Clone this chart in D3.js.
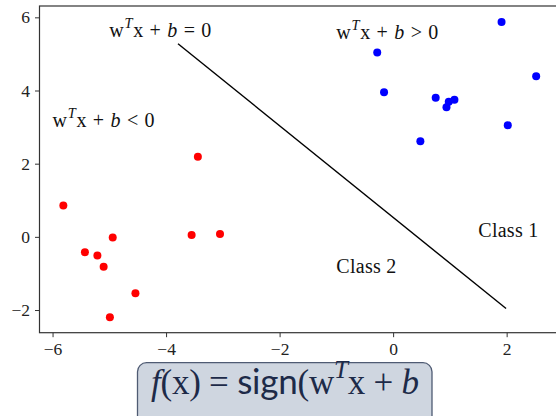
<!DOCTYPE html>
<html><head><meta charset="utf-8">
<script src="https://cdn.jsdelivr.net/npm/d3@7"></script>
<style>html,body{margin:0;padding:0;background:#fff}</style>
</head><body>
<svg id="c" width="556" height="416"></svg>
<script>
// ---- data ----
const class1X = [1.91, -0.28, 2.52, -0.16, 0.75, 1.08, 0.98, 0.94, 2.02, 0.48];
const class1Y = [5.87, 5.04, 4.39, 3.95, 3.80, 3.75, 3.69, 3.54, 3.05, 2.61];
const class2X = [-5.81, -5.43, -5.21, -4.94, -5.10, -4.54, -4.99, -3.55, -3.05, -3.44];
const class2Y = [0.86, -0.42, -0.51, -0.02, -0.82, -1.54, -2.20, 0.05, 0.08, 2.19];
const boundaryX = [-3.79, 1.99];
const boundaryY = [5.28, -1.96];
const xTicks = [-6, -4, -2, 0, 2];
const yTicks = [-2, 0, 2, 4, 6];
const annX = [-5, -6, -1, 1.5, -1];
const annY = [5.47, 3, 5.4, 0, -1];
const annText = ["eq", "lt", "gt", "Class 1", "Class 2"];

// ---- drawing ----
const svg = d3.select("#c");
svg.append("rect").attr("width", 556).attr("height", 416).attr("fill", "#fff");
const L = 39.5, R = 560, T = 6, B = 332.7;
const x = d3.scaleLinear().domain([-6.23, 2.94]).range([L, R]);
const y = d3.scaleLinear().domain([-2.62, 6.31]).range([B, T]);
const serif = "'Liberation Serif', 'DejaVu Serif', serif";

// boundary line
svg.append("path")
  .datum(boundaryX.map((v, i) => [v, boundaryY[i]]))
  .attr("d", d3.line().x(d => x(d[0])).y(d => y(d[1])))
  .attr("stroke", "#000").attr("stroke-width", 1.4).attr("fill", "none");

// points
const pts = [];
class1X.forEach((v, i) => pts.push({x: v, y: class1Y[i], c: "#0000ff"}));
class2X.forEach((v, i) => pts.push({x: v, y: class2Y[i], c: "#ff0000"}));
svg.append("g").selectAll("circle").data(pts).join("circle")
  .attr("cx", d => x(d.x)).attr("cy", d => y(d.y)).attr("r", 4)
  .attr("fill", d => d.c);

// axes
const fmt = d => d < 0 ? "\u2212" + Math.abs(d) : String(d);
const gx = svg.append("g").attr("transform", `translate(0,${B})`)
  .call(d3.axisBottom(x).tickValues(xTicks).tickSize(4.5).tickPadding(5).tickFormat(fmt));
const gy = svg.append("g").attr("transform", `translate(${L},0)`)
  .call(d3.axisLeft(y).tickValues(yTicks).tickSize(4.5).tickPadding(5).tickFormat(fmt));
[gx, gy].forEach(g => {
  g.attr("font-family", null).attr("font-size", null);
  g.select(".domain").remove();
  g.selectAll("line").attr("stroke", "#333").attr("stroke-width", 1);
  g.selectAll("text").style("font-family", serif).style("font-size", "17.5px").attr("fill", "#222");
});
svg.append("rect").attr("x", L).attr("y", T).attr("width", R - L).attr("height", B - T)
  .attr("fill", "none").attr("stroke", "#333").attr("stroke-width", 1.2);

// math text helper
function mathText(parent, px, py, segs, size, color, len) {
  const t = parent.append("text").attr("x", px).attr("y", py)
    .style("font-family", serif).style("font-size", size + "px").attr("fill", color)
    .style("white-space", "pre");
  let shift = 0;
  segs.forEach(s => {
    const ts = t.append("tspan").text(s.t);
    let target = s.sup ? -0.45 * size : 0;
    ts.attr("dy", target - shift); shift = target;
    if (s.i) ts.style("font-style", "italic");
    if (s.sup) ts.style("font-size", (size * 0.72) + "px");
    if (s.f) ts.style("font-family", s.f);
  });
  if (len) t.attr("textLength", len).attr("lengthAdjust", "spacing");
  return t;
}
const wx = [{t: "w"}, {t: "T", i: 1, sup: 1}, {t: "x"}, {t: " + "}, {t: "b", i: 1}];
const mathSegs = {
  eq: wx.concat([{t: " = "}, {t: "0"}]),
  lt: wx.concat([{t: " < "}, {t: "0"}]),
  gt: wx.concat([{t: " > "}, {t: "0"}])
};
const annLen = {eq: 102, lt: 102, gt: 102, "Class 1": 60, "Class 2": 60};
annText.forEach((a, i) => {
  const segs = mathSegs[a] || [{t: a}];
  mathText(svg, x(annX[i]), y(annY[i]), segs, 20, "#111", annLen[a]);
});

// formula box
svg.append("rect").attr("x", 137.5).attr("y", 362.7).attr("width", 294.5).attr("height", 70)
  .attr("rx", 9).attr("fill", "#cfd6e0").attr("stroke", "#4f5b73").attr("stroke-width", 1.3);
mathText(svg, 151, 394, [
  {t: "f", i: 1}, {t: "(x) = "}, {t: "sign", f: "Lato, 'Open Sans', sans-serif"},
  {t: "(w"}, {t: "T", i: 1, sup: 1}, {t: "x + "}, {t: "b", i: 1}
], 35, "#1d2a48", 268);
</script>
</body></html>
